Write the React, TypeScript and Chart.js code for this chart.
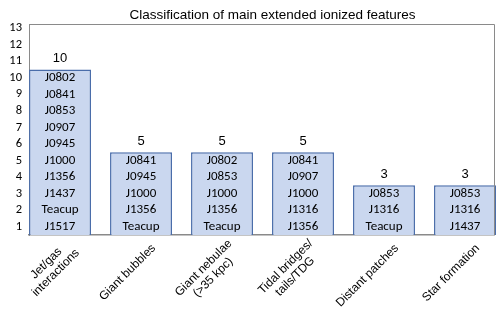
import React, { useEffect, useRef } from 'react';
import { Chart, registerables } from 'chart.js';

Chart.register(...registerables);

const chartTitle = 'Classification of main extended ionized features';
const categories: string[][] = [
  ['Jet/gas', 'interactions'],
  ['Giant bubbles'],
  ['Giant nebulae', '(>35 kpc)'],
  ['Tidal bridges/', 'tails/TDG'],
  ['Distant patches'],
  ['Star formation'],
];
const counts = [10, 5, 5, 5, 3, 3];

const jetGas = ['J0802', 'J0841', 'J0853', 'J0907', 'J0945', 'J1000', 'J1356', 'J1437', 'Teacup', 'J1517'];
const giantBubbles = ['J0841', 'J0945', 'J1000', 'J1356', 'Teacup'];
const giantNebulae = ['J0802', 'J0853', 'J1000', 'J1356', 'Teacup'];
const tidalFeatures = ['J0841', 'J0907', 'J1000', 'J1316', 'J1356'];
const distantPatches = ['J0853', 'J1316', 'Teacup'];
const starFormation = ['J0853', 'J1316', 'J1437'];
const members = [jetGas, giantBubbles, giantNebulae, tidalFeatures, distantPatches, starFormation];

const yTickLabels = ['1', '2', '3', '4', '5', '6', '7', '8', '9', '10', '11', '12', '13'];

const FILL = '#CAD7EF';
const EDGE = '#4A6DAA';
const AXIS = '#8A8A8A';
const ARIAL = '"Liberation Sans", Arial, sans-serif';
const CALIBRI = 'Carlito, Lato, "Open Sans", sans-serif';

const overlay = {
  id: 'overlay',
  afterDatasetsDraw(chart: any) {
    const ctx: CanvasRenderingContext2D = chart.ctx;
    const { left, right, top, bottom } = chart.chartArea;
    const xs = chart.scales.x;
    const ys = chart.scales.y;
    ctx.save();
    // plot box top and right edges
    ctx.strokeStyle = AXIS;
    ctx.lineWidth = 1;
    ctx.beginPath();
    ctx.moveTo(left, top + 0.5);
    ctx.lineTo(right + 0.5, top + 0.5);
    ctx.lineTo(right + 0.5, bottom);
    ctx.stroke();

    ctx.fillStyle = '#000';
    ctx.textAlign = 'center';
    ctx.textBaseline = 'middle';

    // names inside bars
    ctx.font = `13px ${CALIBRI}`;
    members.forEach((list, i) => {
      const x = xs.getPixelForValue(i);
      const v = counts[i];
      list.forEach((name, k) => {
        ctx.fillText(name, x, ys.getPixelForValue(v - k - 0.5));
      });
    });

    // value labels
    ctx.font = `13px ${ARIAL}`;
    counts.forEach((v, i) => {
      ctx.fillText(String(v), xs.getPixelForValue(i), ys.getPixelForValue(v) - 11);
    });

    // rotated category labels
    ctx.font = `12px ${ARIAL}`;
    const lh = 13.4;
    const c = Math.SQRT1_2;
    categories.forEach((lines, i) => {
      const tx = xs.getPixelForValue(i);
      const ax = tx + 17 * c + 1 * c;
      const ay = bottom + 17 * c - 1 * c;
      ctx.save();
      ctx.translate(ax, ay);
      ctx.rotate(-Math.PI / 4);
      const maxW = Math.max(...lines.map((l) => ctx.measureText(l).width));
      lines.forEach((l, k) => {
        ctx.fillText(l, -maxW / 2, (k - (lines.length - 1) / 2) * lh);
      });
      ctx.restore();
    });

    // title
    ctx.font = `13.5px ${ARIAL}`;
    ctx.fillText(chartTitle, (left + right) / 2 + 11, 15);
    ctx.restore();
  },
};

export default function App() {
  const ref = useRef<HTMLCanvasElement | null>(null);
  useEffect(() => {
    if (!ref.current) return;
    const chart = new Chart(ref.current, {
      type: 'bar',
      data: {
        datasets: [
          {
            data: counts.map((v, i) => ({ x: i, y: v })),
            backgroundColor: FILL,
            borderColor: EDGE,
            borderWidth: 1.5,
            categoryPercentage: 0.765,
            barPercentage: 1,
            clip: false as any,
          },
        ],
      },
      options: {
        responsive: false,
        animation: false,
        devicePixelRatio: 1,
        layout: { padding: { top: 24, right: 4, left: 0, bottom: 0 } },
        plugins: {
          legend: { display: false },
          tooltip: { enabled: false },
          title: { display: false },
        },
        scales: {
          x: {
            type: 'linear',
            offset: false,
            min: -0.383,
            max: 5.358,
            bounds: 'ticks',
            afterBuildTicks: (s: any) => {
              s.ticks = counts.map((_, i) => ({ value: i }));
            },
            ticks: { display: false },
            grid: { display: false, drawTicks: false, offset: false },
            border: { color: AXIS, width: 1.5 },
            afterFit: (s: any) => {
              s.height = 90;
            },
          },
          y: {
            type: 'linear',
            min: 0,
            max: 12.75,
            afterBuildTicks: (s: any) => {
              s.ticks = yTickLabels.map((_, i) => ({ value: i + 0.5 }));
            },
            ticks: {
              callback: (_v: any, idx: number) => yTickLabels[idx],
              padding: 7,
              color: '#000',
              font: { family: CALIBRI, size: 12.5 },
              autoSkip: false,
            },
            grid: { display: false, drawTicks: false },
            border: { color: AXIS, width: 1 },
            afterFit: (s: any) => {
              s.width = 29;
            },
          },
        },
      },
      plugins: [overlay],
    } as any);
    return () => chart.destroy();
  }, []);
  return (
    <div style={{ position: 'absolute', left: 0, top: 0, width: 498, height: 325 }}>
      <canvas ref={ref} width={498} height={325} style={{ display: 'block' }} />
    </div>
  );
}
